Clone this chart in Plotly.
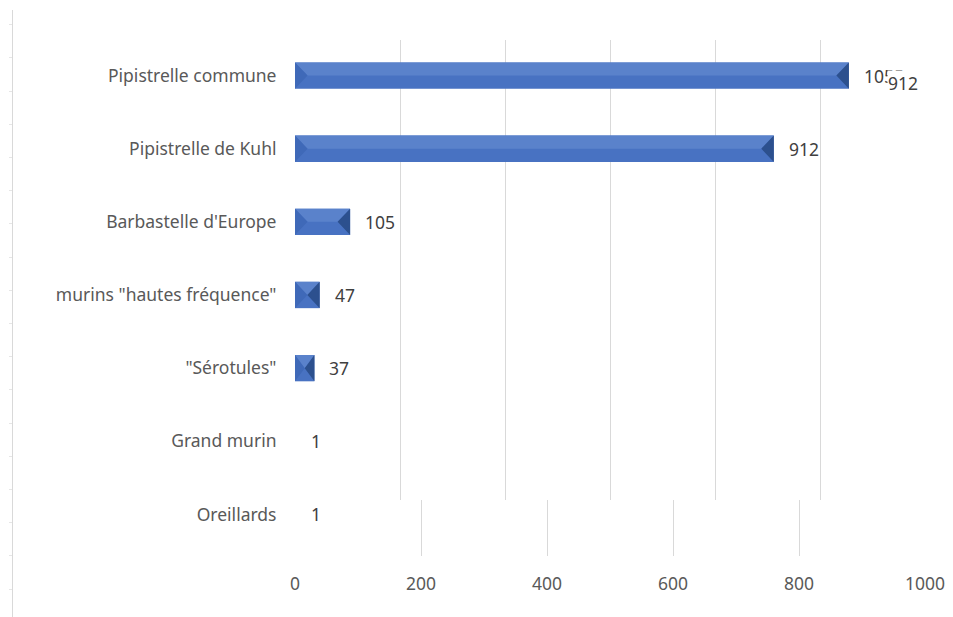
import plotly.graph_objects as go

# ---- data ----
categories = ["Pipistrelle commune", "Pipistrelle de Kuhl", "Barbastelle d'Europe",
              "murins \"hautes fréquence\"", "\"Sérotules\"", "Grand murin", "Oreillards"]
values = [1055, 912, 105, 47, 37, 1, 1]
value_labels = ["1055", "912", "105", "47", "37", "1", "1"]
stray_label = "912"           # overlapping label on the first row
upper_ticks = [0, 200, 400, 600, 800, 1000, 1200]
lower_ticks = [0, 200, 400, 600, 800, 1000]

W, H = 953, 617
FONT = "Noto Sans"
GRID = "#d9d9d9"

def px_x(p):
    return p / W

def px_y(p):
    return 1 - p / H

xdom = [px_x(295), px_x(925)]

fig = go.Figure()

fig.add_trace(go.Scatter(x=[None], y=[None], xaxis="x", yaxis="y", showlegend=False, hoverinfo="skip"))
fig.add_trace(go.Scatter(x=[None], y=[None], xaxis="x2", yaxis="y2", showlegend=False, hoverinfo="skip"))
fig.add_trace(go.Scatter(x=[None], y=[None], xaxis="x3", yaxis="y4", showlegend=False, hoverinfo="skip"))

idx = list(range(len(categories)))
BAR_W = 0.36
units_per_px = 1200 / 630
visible_vals = [v if v >= 2 * units_per_px else 0 for v in values]
fig.add_trace(go.Bar(
    x=visible_vals, y=idx, orientation="h", width=BAR_W, xaxis="x3", yaxis="y3",
    marker=dict(color="#4872c2", line=dict(width=0)),
    showlegend=False, hoverinfo="skip"))

h = BAR_W / 2
top_x, top_y, lt_x, lt_y, rt_x, rt_y = [], [], [], [], [], []
for yc, v in zip(idx, visible_vals):
    if v <= 0:
        continue
    d = min(12.5 * units_per_px, v / 2)
    top_x += [0, v, v - d, d, 0, None]
    top_y += [yc - h, yc - h, yc, yc, yc - h, None]
    lt_x += [0, d, 0, 0, None]
    lt_y += [yc - h, yc, yc + h, yc - h, None]
    rt_x += [v, v - d, v, v, None]
    rt_y += [yc - h, yc, yc + h, yc - h, None]

for xs, ys, col in [(top_x, top_y, "#5a82cb"), (lt_x, lt_y, "#3f69b8"), (rt_x, rt_y, "#2c508e")]:
    fig.add_trace(go.Scatter(x=xs, y=ys, xaxis="x3", yaxis="y3", mode="lines", fill="toself",
                             fillcolor=col, line=dict(width=0), showlegend=False, hoverinfo="skip"))

LBL = dict(family=FONT, size=17.5, color="#404040")
annotations = []
for yc, v, lab in zip(idx, values, value_labels):
    annotations.append(dict(x=v, y=yc, xref="x3", yref="y3", text=lab, showarrow=False,
                            xanchor="left", xshift=13, font=LBL))
annotations.append(dict(x=values[0], y=0, xref="x3", yref="y3", text=stray_label, showarrow=False,
                        xanchor="left", xshift=38, yshift=-7, bgcolor="white", borderpad=0, font=LBL))

fig.update_layout(
    template="none",
    width=W, height=H, margin=dict(l=0, r=0, t=0, b=0, autoexpand=False),
    paper_bgcolor="white", plot_bgcolor="rgba(0,0,0,0)",
    font=dict(family=FONT, size=17, color="#595959"),
    xaxis=dict(domain=xdom, anchor="y", range=[0, 1200], tickvals=upper_ticks, showgrid=True,
               gridcolor=GRID, gridwidth=1, showticklabels=False, zeroline=False, showline=False,
               ticks="", automargin=False),
    yaxis=dict(domain=[px_y(500), px_y(40)], anchor="x", visible=False, range=[0, 1], automargin=False),
    xaxis2=dict(domain=xdom, anchor="y2", range=[0, 1000], tickvals=lower_ticks, showgrid=True,
                gridcolor=GRID, gridwidth=1, zeroline=False, showline=False, ticks="outside", ticklen=0,
                ticklabelstandoff=12, tickfont=dict(family=FONT, size=17.5, color="#595959"),
                automargin=False),
    yaxis2=dict(domain=[px_y(556), px_y(500)], anchor="x2", visible=False, range=[0, 1], automargin=False),
    xaxis3=dict(domain=xdom, anchor="y3", range=[0, 1200], visible=False, automargin=False),
    yaxis3=dict(domain=[px_y(551), px_y(39)], anchor="x3", range=[len(categories) - 0.5, -0.5],
                tickvals=idx, ticktext=categories, showgrid=False, zeroline=False, showline=False,
                ticks="outside", ticklen=0, ticklabelstandoff=14, automargin=False,
                tickfont=dict(family=FONT, size=17.5, color="#595959")),
    yaxis4=dict(domain=[0, px_y(10)], anchor="free", position=px_x(12), range=[0, 607 / 33.2],
                tick0=0.843, dtick=1, showline=True, linecolor=GRID, linewidth=1, ticks="outside",
                ticklen=3, tickcolor="#e6e6e6", showticklabels=False, showgrid=False, zeroline=False,
                automargin=False),
    annotations=annotations,
)

fig.write_html("out.html", config={"displayModeBar": False},
               post_script="document.body.style.margin='0';document.body.style.overflow='hidden';")
